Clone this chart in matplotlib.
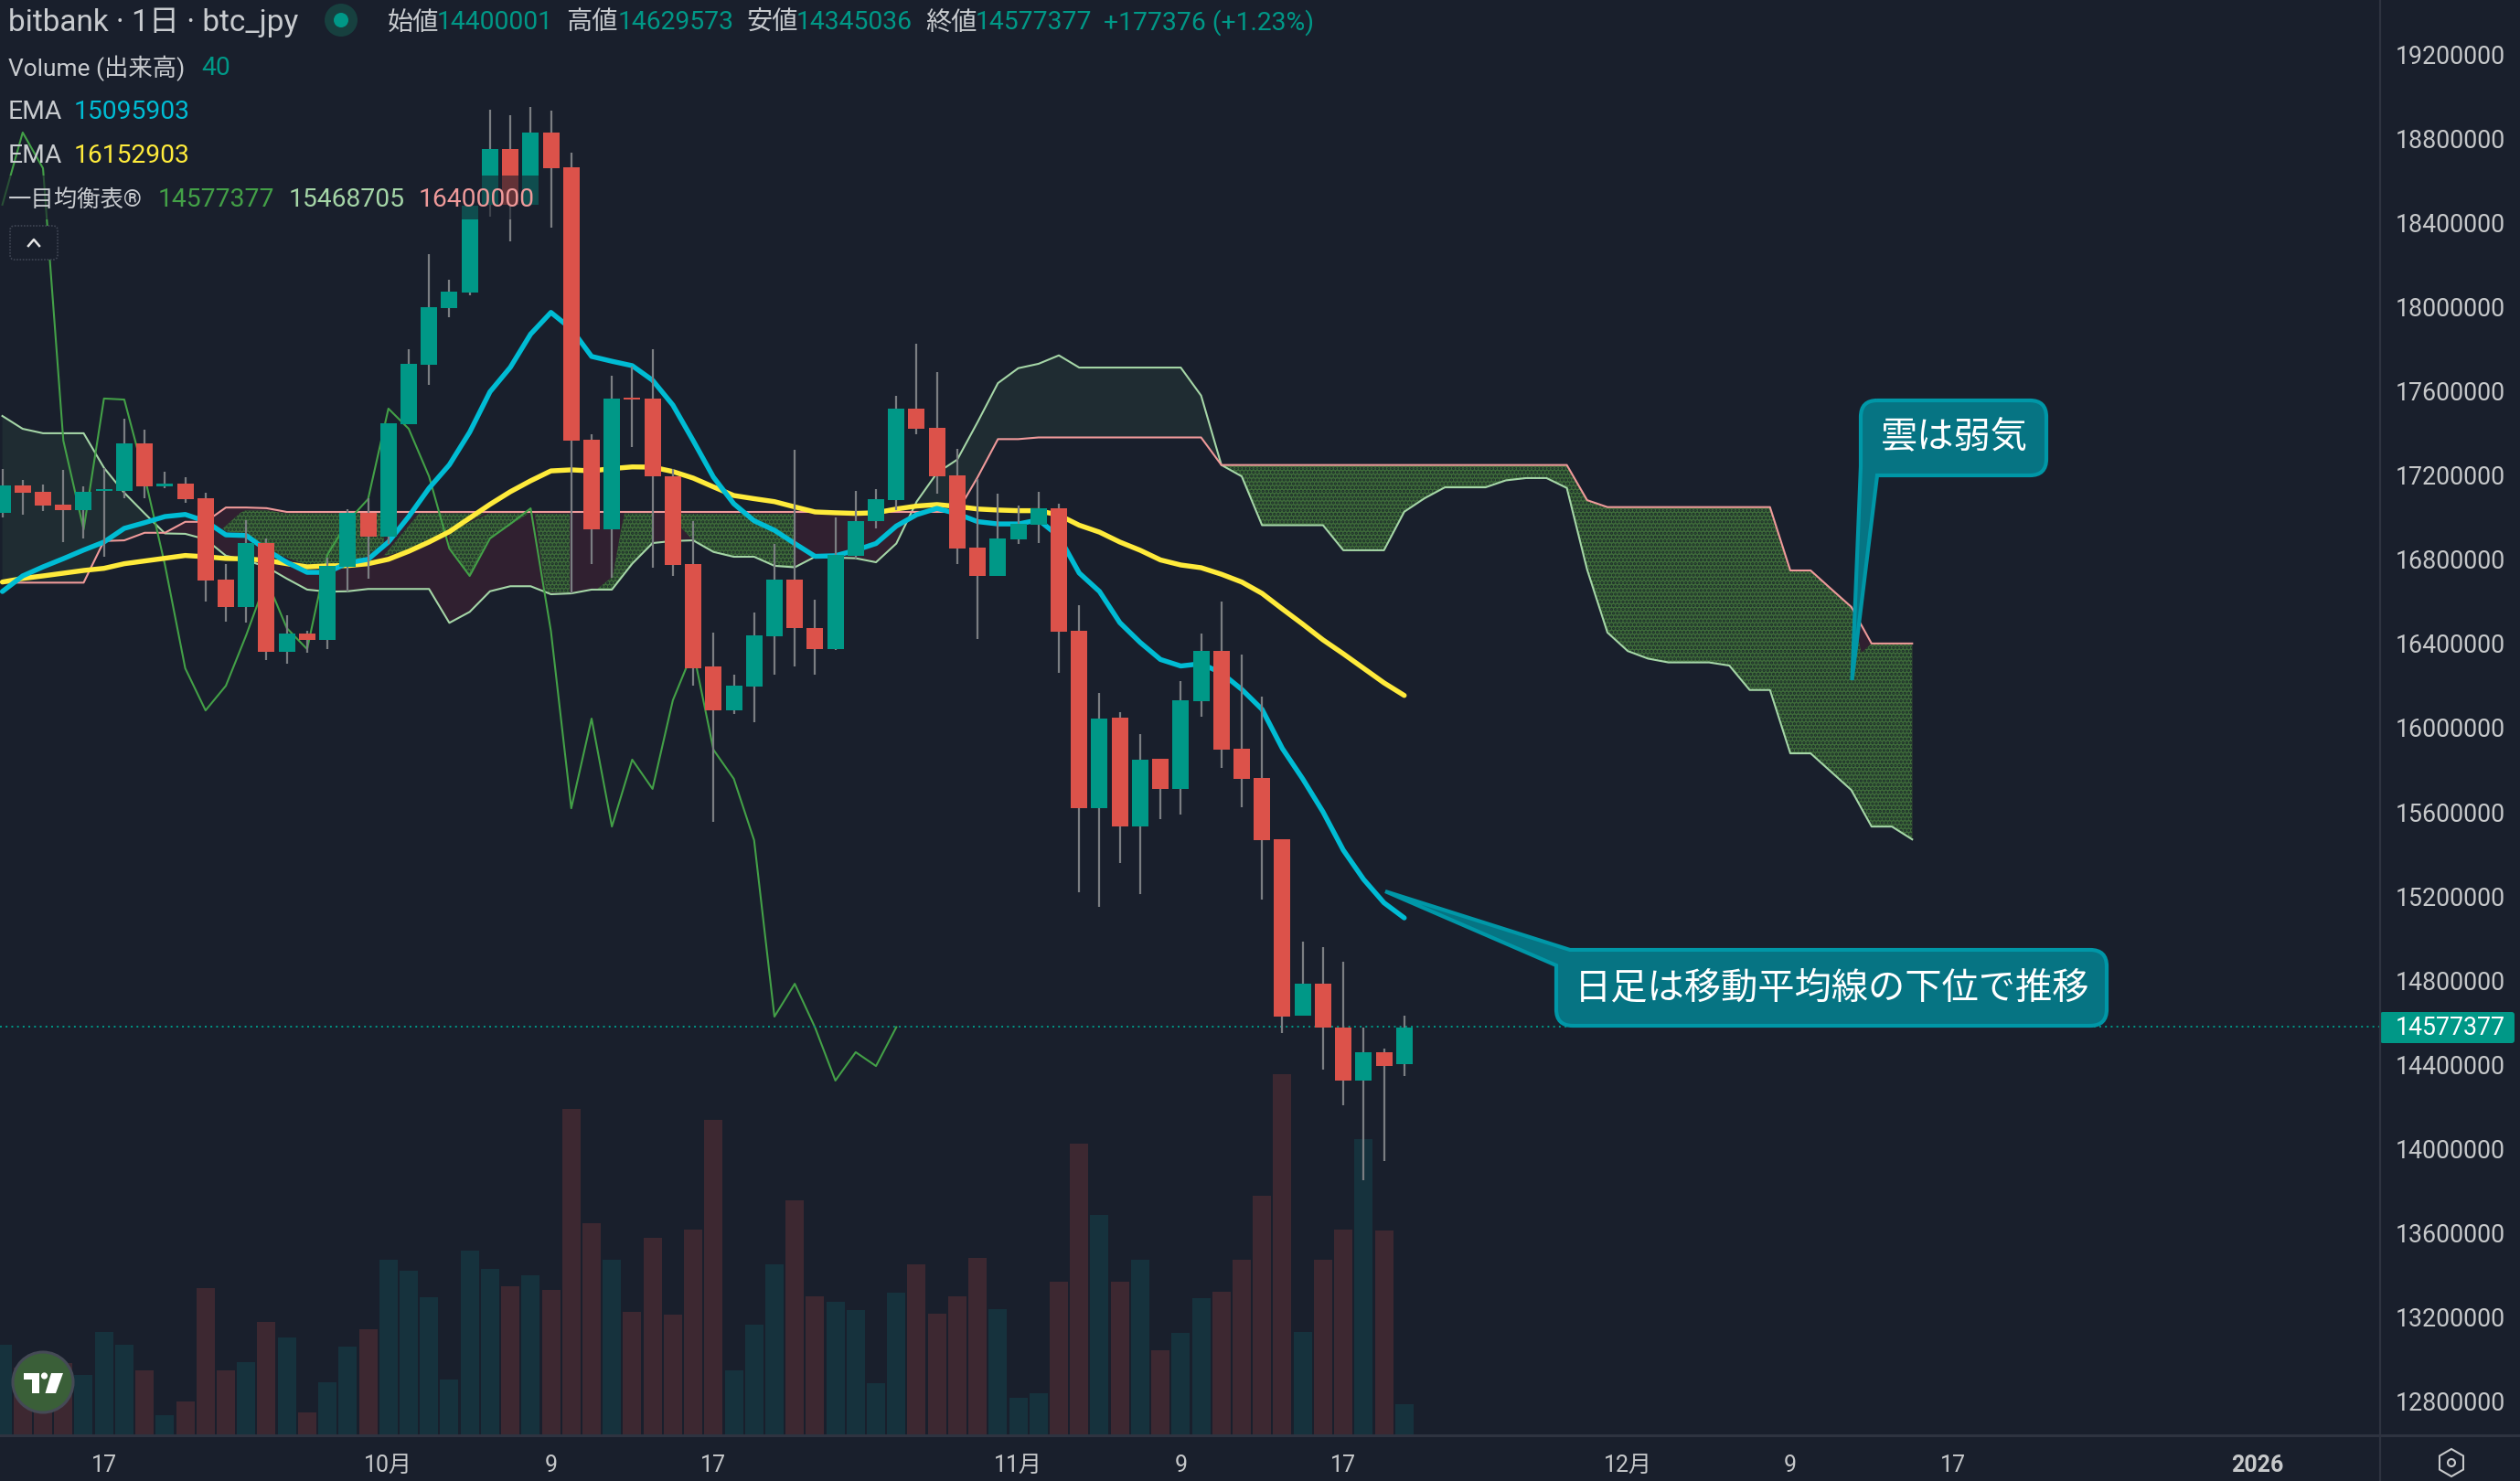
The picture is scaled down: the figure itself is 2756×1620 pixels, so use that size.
import numpy as np
import matplotlib
matplotlib.use("Agg")
import matplotlib.pyplot as plt
from matplotlib.patches import Rectangle, Circle, Ellipse, FancyBboxPatch, PathPatch, Polygon, RegularPolygon
from matplotlib.path import Path

plt.rcParams["font.family"] = ["Roboto", "Noto Sans CJK JP", "DejaVu Sans"]
plt.rcParams["hatch.linewidth"] = 1.6

BG = "#191f2c"
UP = "#009887"
DOWN = "#dc524a"
UP_VOL = "#16323d"
DOWN_VOL = "#3d2831"
WICK = "#7b7e82"
BLUE = "#00bcd4"
YELLOW = "#ffeb3b"
LAG = "#43a047"
SPAN_A = "#a5d6a7"
SPAN_B = "#ef9a9a"
AXIS = "#2e3340"
LABEL = "#c6c8ca"

# all prices in thousand yen, one entry per daily candle from 12 Sep 2025
opens = [17021,17151,17121,17060,17034,17125,17125,17351,17147,17160,
         17090,16703,16573,16877,16360,16447,16417,16765,17021,16908,
         17442,17724,17994,18069,18485,18750,18485,18828,18663,17368,
         16942,17568,17564,17194,16777,16291,16083,16195,16434,16703,
         16473,16373,16818,16981,17082,17516,17425,17199,16855,16721,
         16895,16964,17042,16460,15617,16047,15530,15852,15709,16126,
         16365,15900,15761,15470,14631,14783,14575,14323,14458,14400]
closes = [17151,17116,17055,17034,17121,17134,17351,17147,17160,17086,
          16699,16573,16877,16360,16447,16417,16769,17021,16908,17446,
          17729,17998,18072,18482,18750,18485,18828,18658,17364,16942,
          17564,17559,17194,16774,16282,16082,16199,16439,16703,16473,
          16373,16822,16981,17086,17516,17420,17194,16851,16721,16899,
          16968,17042,16458,15617,16043,15530,15848,15709,16130,16365,
          15895,15757,15465,14627,14783,14575,14323,14458,14392,14577]
highs = [17229,17177,17155,17225,17147,17235,17468,17416,17216,17190,
         17116,16779,16986,16899,16534,16460,16808,17038,17090,17446,
         17798,18250,18128,18482,18936,18910,18949,18932,18732,17394,
         17672,17717,17798,17229,16981,16452,16252,16547,16871,17320,
         16608,16997,17123,17134,17577,17824,17690,17326,17181,17112,
         17055,17121,17064,16580,16163,16075,15969,15852,16221,16447,
         16599,16347,16147,15470,14983,14957,14888,14575,14475,14630]
lows = [16999,17013,17029,16883,16900,16813,17090,17090,17138,17068,
        16599,16504,16499,16321,16304,16356,16373,16648,16708,16873,
        17442,17629,17950,18056,18428,18311,18485,18376,16638,16779,
        16714,17333,16760,16721,16199,15552,16066,16026,16252,16289,
        16252,16369,16803,16947,17035,17394,17112,16777,16419,16721,
        16875,16877,16260,15218,15150,15357,15210,15567,15587,16052,
        15809,15622,15183,14549,14631,14373,14206,13851,13939,14345]
volumes = [119,88,80,95,79,136,119,85,26,44,
           194,85,96,149,128,29,69,116,140,232,
           217,182,73,244,219,196,211,192,431,280,
           231,162,261,159,271,417,85,146,226,310,
           183,176,165,68,188,225,160,183,234,166,
           48,54,203,385,291,203,231,111,135,181,
           189,232,316,478,136,232,272,391,270,40]
ema_fast = [16647,16721,16764,16803,16844,16882,16947,16974,17003,17013,
            16981,16916,16913,16844,16786,16738,16738,16783,16800,16882,
            17003,17138,17249,17404,17596,17712,17870,17973,17895,17764,
            17741,17720,17651,17533,17364,17190,17064,16983,16938,16875,
            16814,16817,16843,16875,16958,17012,17042,17016,16979,16968,
            16968,16987,16909,16735,16647,16499,16405,16324,16293,16304,
            16260,16182,16087,15901,15757,15600,15418,15279,15168,15096]
ema_slow = [16692,16709,16721,16734,16747,16757,16779,16792,16805,16818,
            16812,16804,16802,16795,16779,16764,16769,16770,16779,16800,
            16838,16882,16931,16996,17061,17121,17173,17220,17225,17220,
            17231,17239,17238,17217,17186,17144,17103,17088,17074,17049,
            17025,17021,17018,17021,17039,17053,17060,17051,17039,17034,
            17031,17031,17010,16962,16929,16882,16843,16797,16773,16760,
            16729,16692,16638,16564,16492,16417,16351,16282,16213,16153]
span_a = [17481,17420,17399,17399,17399,17235,17116,17018,16923,16921,
          16895,16817,16795,16764,16708,16656,16646,16648,16659,16659,
          16659,16659,16498,16550,16648,16672,16672,16634,16638,16656,
          16656,16779,16877,16887,16890,16835,16812,16812,16769,16762,
          16812,16808,16805,16786,16875,17074,17210,17274,17452,17637,
          17708,17729,17769,17711,17711,17711,17711,17711,17711,17578,
          17248,17194,16962,16962,16962,16962,16843,16843,16843,17026,
          17090,17142,17142,17142,17175,17186,17186,17139,16751,16452,
          16364,16328,16310,16310,16310,16295,16179,16179,15878,15878,
          15791,15704,15530,15530,15469]
span_b = [16689,16689,16689,16689,16689,16887,16890,16926,16926,16978,
          16978,17046,17046,17043,17025,17025,17025,17025,17025,17025,
          17025,17025,17025,17025,17025,17025,17025,17025,17025,17025,
          17025,17025,17025,17025,17025,17025,17025,17025,17025,17025,
          17025,17025,17025,17025,17025,17025,17025,17025,17190,17371,
          17371,17379,17379,17379,17379,17379,17379,17379,17379,17379,
          17248,17248,17248,17248,17248,17248,17248,17248,17248,17248,
          17248,17248,17248,17248,17248,17248,17248,17248,17081,17048,
          17048,17048,17048,17048,17048,17048,17048,17048,16747,16747,
          16660,16574,16400,16400,16400]

# hand-painted green patches on the cloud (candle index, price)
patch1_x = [10.83,11.73,11.96,13.01,13.98,18.78,18.78,17.96,17.43,16.38,14.88,13.38,12.48,12.03,11.06]
patch1_y = [16945,17022,17032,17032,17018,17018,16880,16815,16796,16776,16776,16830,16880,16924,16931]
patch2_x = [18.75,20.51,23.74,22.01,20.28]
patch2_y = [16815,17018,17018,16931,16851]
patch3_x = [23.96,25.91,23.96,23.01,22.01,22.01]
patch3_y = [17018,17018,16902,16724,16859,16931]
patch4_x = [26.21,27.93,27.93,26.74]
patch4_y = [17018,17018,16641,16641]
patch5_x = [30.45,30.63,31.98,31.98,31.01,30.04,29.29,30.04]
patch5_y = [16938,17018,17018,16869,16779,16656,16660,16718]
patch6_x = [33.41,38.96,38.96,38,37,36,35,34,33.41]
patch6_y = [17016,17016,16762,16769,16812,16812,16835,16890,16950]
patch7_tail_x = [91.5,92,93,94]
patch7_tail_y = [16355,16400,16400,16400]

price_ticks = [12800,13200,13600,14000,14400,14800,15200,15600,16000,16400,
               16800,17200,17600,18000,18400,18800,19200]
date_ticks = [5,19,27,35,50,58,66,80,88,96,111]
date_labels = ["17","10月","9","17","11月","9","17","12月","9","17","2026"]

opens = np.array(opens) * 1000
closes = np.array(closes) * 1000
highs = np.array(highs) * 1000
lows = np.array(lows) * 1000
ema_fast = np.array(ema_fast) * 1000
ema_slow = np.array(ema_slow) * 1000
span_a = np.array(span_a) * 1000
span_b = np.array(span_b) * 1000
x = np.arange(len(opens))
x_cloud = np.arange(len(span_a))
rising = closes >= opens
last_price = 14577377

W, H = 2756, 1620
PANE_R, PANE_B = 2603, 1570
fig = plt.figure(figsize=(W / 100, H / 100), dpi=100, facecolor=BG)
rect = [0, 1 - PANE_B / H, PANE_R / W, PANE_B / H]

vol_ax = fig.add_axes(rect, facecolor=BG, zorder=0)
ax = fig.add_axes(rect, facecolor="none", zorder=1)
over = fig.add_axes([0, 0, 1, 1], facecolor="none", zorder=3)

xlim = (-0.117, 117.03)
vol_ax.set_xlim(xlim)
vol_ax.set_ylim(-1.2, 1902)
vol_ax.axis("off")
vol_ax.bar(x, volumes, width=0.9, color=np.where(rising, UP_VOL, DOWN_VOL), linewidth=0)

ax.set_xlim(xlim)
ax.set_ylim(12637500, 19457600)

# cloud
ax.fill_between(x_cloud, span_a, span_b, where=span_a >= span_b, interpolate=True,
                color="#1f2c32", linewidth=0, zorder=1)
ax.fill_between(x_cloud, span_a, span_b, where=span_a < span_b, interpolate=True,
                color="#302030", linewidth=0, zorder=1)
stipple = dict(facecolor="#3e6b3a", edgecolor="#1d2c2a", hatch="....", linewidth=0, zorder=1.5)
for px, py in [(patch1_x, patch1_y), (patch2_x, patch2_y), (patch3_x, patch3_y),
               (patch4_x, patch4_y), (patch5_x, patch5_y), (patch6_x, patch6_y)]:
    ax.fill(px, np.array(py) * 1000, **stipple)
big_x = list(x_cloud[60:92]) + patch7_tail_x + list(x_cloud[60:95][::-1])
big_y = list(span_b[60:92]) + [v * 1000 for v in patch7_tail_y] + list(span_a[60:95][::-1])
ax.fill(big_x, big_y, **stipple)

ax.plot(x_cloud, span_a, color=SPAN_A, lw=1.5, zorder=2)
ax.plot(x_cloud, span_b, color=SPAN_B, lw=1.5, zorder=2)
ax.plot(x[:45], closes[25:], color=LAG, lw=1.5, zorder=2.5)

ax.plot(x, ema_slow, color=YELLOW, lw=3.9, zorder=3, solid_capstyle="round", solid_joinstyle="round")
ax.plot(x, ema_fast, color=BLUE, lw=3.9, zorder=3.2, solid_capstyle="round", solid_joinstyle="round")

# candles
ax.vlines(x, lows, highs, color=WICK, lw=1.6, zorder=4)
ax.bar(x, np.abs(closes - opens), bottom=np.minimum(opens, closes), width=0.81,
       color=np.where(rising, UP, DOWN), linewidth=0, zorder=5)

ax.axhline(last_price, color=UP, lw=1.4, ls=(0, (1, 2.2)), zorder=2.8)

for s in ax.spines.values():
    s.set_visible(False)
ax.yaxis.tick_right()
ax.set_yticks(np.array(price_ticks) * 1000)
ax.set_yticklabels([str(p * 1000) for p in price_ticks])
ax.set_xticks(date_ticks)
ax.set_xticklabels(date_labels)
ax.tick_params(axis="y", length=0, pad=12, labelsize=19.3, labelcolor=LABEL)
ax.tick_params(axis="x", length=0, pad=15, labelsize=18, labelcolor=LABEL)
ax.get_xticklabels()[-1].set_fontweight("bold")

# overlay in figure pixels: legend, callouts, axis chrome
over.set_xlim(0, W)
over.set_ylim(H, 0)
over.axis("off")


def label(px, py, s, color="#c8cbcf", size=20.3, **kw):
    over.text(px, py, s, color=color, fontsize=size, va="center", ha=kw.pop("ha", "left"), **kw)


over.add_patch(Rectangle((0, 192), 590, 48, facecolor=BG, alpha=0.62, linewidth=0))
over.plot([PANE_R, PANE_R], [0, H], color=AXIS, lw=1.6)
over.plot([0, W], [PANE_B, PANE_B], color=AXIS, lw=2.2)

label(9, 25, "bitbank · 1日 · btc_jpy", size=24)
over.add_patch(Circle((373, 22), 18, facecolor="#17403f", linewidth=0))
over.add_patch(Circle((373, 22), 8, facecolor=UP, linewidth=0))
for px, s in [(424, "始値"), (619, "高値"), (816, "安値"), (1012, "終値")]:
    label(px, 25, s)
for px, s in [(478, "14400001"), (676, "14629573"), (871, "14345036"),
              (1067, "14577377"), (1207, "+177376 (+1.23%)")]:
    label(px, 25, s, color=UP)

label(9, 75, "Volume (出来高)", size=19)
label(220, 75, "40", color=UP)
label(9, 123, "EMA")
label(81, 123, "15095903", color=BLUE)
label(9, 171, "EMA")
label(81, 171, "16152903", color=YELLOW)
label(9, 219, "一目均衡表®", size=18.3)
label(173, 219, "14577377", color=LAG)
label(316, 219, "15468705", color=SPAN_A)
label(458, 219, "16400000", color=SPAN_B)

over.add_patch(FancyBboxPatch((11, 247), 52, 37, boxstyle="round,pad=0,rounding_size=5",
                              facecolor=BG, edgecolor="#3f4553", lw=1.2, ls=(0, (1, 1))))
over.plot([31, 37, 43], [269, 262, 269], color="#e6e6e6", lw=1.8)

# price tag
over.add_patch(FancyBboxPatch((PANE_R, 1107), 147, 34, boxstyle="round,pad=0,rounding_size=3",
                              facecolor=UP, linewidth=0))
label(2620, 1125, str(last_price), color="white", size=19.3)

# settings icon
over.add_patch(RegularPolygon((2681, 1600), 6, radius=15, facecolor="none", edgecolor=LABEL, lw=1.5))
over.add_patch(Circle((2681, 1600), 4, facecolor="none", edgecolor=LABEL, lw=1.5))

# logo
over.add_patch(Ellipse((47, 1512), 66, 66, facecolor="#3a5f38", edgecolor="#454a56", lw=2.2))
over.add_patch(Polygon([(25.5, 1502), (43.4, 1502), (43.4, 1524), (35, 1524), (35, 1509), (25.5, 1509)],
                       facecolor="white", linewidth=0))
over.add_patch(Circle((48.5, 1505), 3.6, facecolor="white", linewidth=0))
over.add_patch(Polygon([(56, 1502), (69, 1502), (61, 1524), (49.5, 1524)], facecolor="white", linewidth=0))


def callout(verts, codes):
    over.add_patch(PathPatch(Path(verts, codes), facecolor="#067483", edgecolor="#0097a7",
                             lw=3, joinstyle="miter"))


M, L, C = Path.MOVETO, Path.LINETO, Path.CURVE3
callout([(1717, 1039), (2286, 1039), (2304, 1039), (2304, 1057), (2304, 1104), (2304, 1122), (2286, 1122),
         (1720, 1122), (1702, 1122), (1702, 1104), (1702, 1056), (1515, 975), (1717, 1039)],
        [M, L, C, C, L, C, C, L, C, C, L, L, Path.CLOSEPOLY])
callout([(2053, 438), (2220, 438), (2238, 438), (2238, 456), (2238, 502), (2238, 520), (2220, 520),
         (2053, 520), (2025.5, 744), (2035, 510), (2035, 456), (2035, 438), (2053, 438)],
        [M, L, C, C, L, C, C, L, L, L, L, C, C])
label(2004, 1081, "日足は移動平均線の下位で推移", color="white", size=29, ha="center")
label(2137, 479, "雲は弱気", color="white", size=29, ha="center")

fig.savefig("out.png", dpi=100, facecolor=BG)
